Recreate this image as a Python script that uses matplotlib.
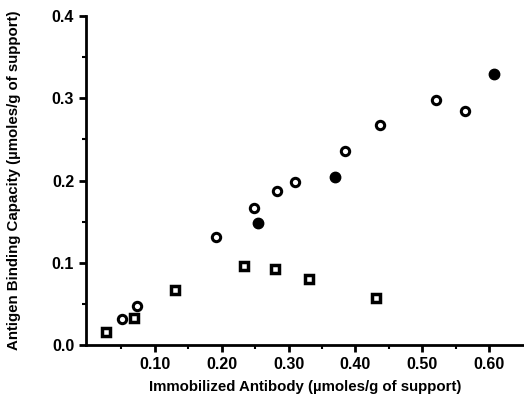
import numpy as np
import matplotlib.pyplot as plt

# open circles
open_x = [0.051, 0.073, 0.192, 0.248, 0.282, 0.309, 0.385, 0.436, 0.521, 0.564]
open_y = [0.032, 0.047, 0.131, 0.166, 0.187, 0.198, 0.236, 0.268, 0.298, 0.285]
# filled circles
fill_x = [0.255, 0.370, 0.607]
fill_y = [0.148, 0.204, 0.329]
# open squares
sq_x = [0.027, 0.069, 0.130, 0.233, 0.280, 0.330, 0.430]
sq_y = [0.016, 0.033, 0.067, 0.096, 0.092, 0.080, 0.057]

xticks = [0.10, 0.20, 0.30, 0.40, 0.50, 0.60]
yticks = [0.0, 0.1, 0.2, 0.3, 0.4]

plt.rcParams['font.family'] = ['Liberation Sans', 'DejaVu Sans']
plt.rcParams['font.weight'] = 'bold'

fig = plt.figure(figsize=(5.24, 4.03), dpi=100)
ax = fig.add_axes([0.164, 0.144, 0.836, 0.816])

ax.plot(open_x, open_y, 'o', ms=6, mfc='white', mec='black', mew=2.2)
ax.plot(fill_x, fill_y, 'o', ms=7.5, color='black')
ax.plot(sq_x, sq_y, 's', ms=5.8, mfc='white', mec='black', mew=2.5)

ax.set_xlim(-0.003, 0.652)
ax.set_ylim(0, 0.4)
ax.set_xticks(xticks)
ax.set_xticklabels([f'{v:.2f}' for v in xticks])
ax.set_yticks(yticks)
ax.set_yticklabels([f'{v:.1f}' for v in yticks])
ax.set_xticks(np.arange(0.05, 0.65, 0.1), minor=True)
ax.set_yticks([0.05, 0.15, 0.25, 0.35], minor=True)

for s in ['top', 'right']:
    ax.spines[s].set_visible(False)
for s in ['left', 'bottom']:
    ax.spines[s].set_linewidth(2)
ax.tick_params(which='major', length=5, width=2, labelsize=11.5, direction='out')
ax.tick_params(which='minor', length=3, width=1.5, direction='out')

ax.set_xlabel('Immobilized Antibody (\u00b5moles/g of support)', fontsize=10.8, fontweight='bold', labelpad=6)
ax.set_ylabel('Antigen Binding Capacity (\u00b5moles/g of support)', fontsize=10.8, fontweight='bold', labelpad=22)

fig.savefig('out.png', dpi=100)
